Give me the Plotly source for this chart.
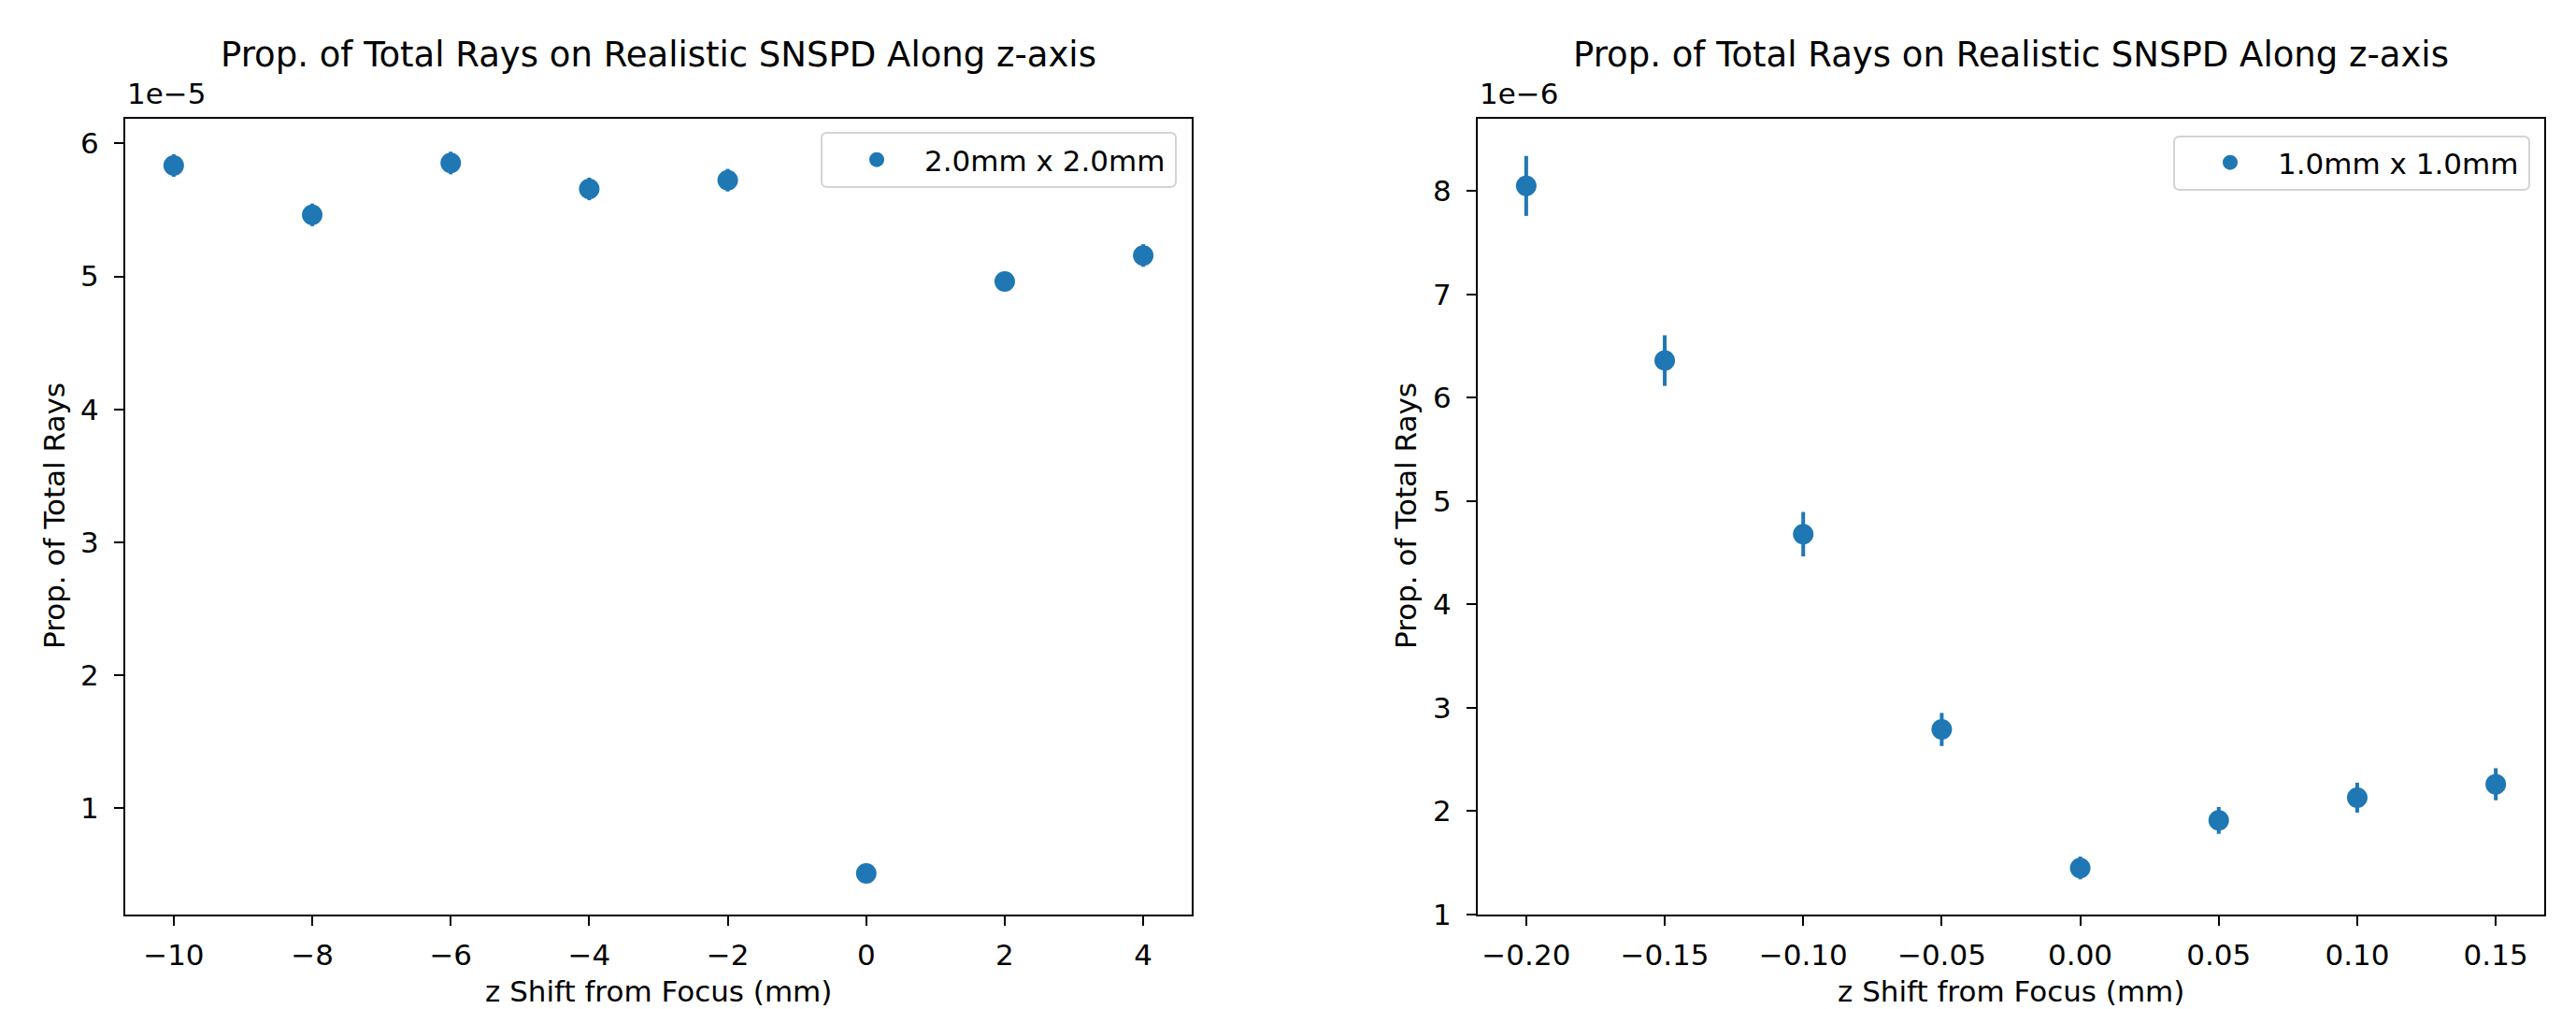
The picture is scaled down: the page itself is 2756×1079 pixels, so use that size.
import plotly.graph_objects as go

W, H = 2756, 1079

# ---- data ----
z_left = [-10, -8, -6, -4, -2, 0, 2, 4]
prop_left = [5.834e-5, 5.463e-5, 5.853e-5, 5.658e-5, 5.724e-5, 0.507e-5, 4.961e-5, 5.157e-5]
err_left = [0.085e-5, 0.085e-5, 0.085e-5, 0.085e-5, 0.085e-5, 0.03e-5, 0.07e-5, 0.085e-5]
label_left = "2.0mm x 2.0mm"

z_right = [-0.20, -0.15, -0.10, -0.05, 0.00, 0.05, 0.10, 0.15]
prop_right = [8.05e-6, 6.36e-6, 4.68e-6, 2.79e-6, 1.45e-6, 1.91e-6, 2.13e-6, 2.26e-6]
err_right = [0.29e-6, 0.245e-6, 0.215e-6, 0.16e-6, 0.11e-6, 0.13e-6, 0.145e-6, 0.155e-6]
label_right = "1.0mm x 1.0mm"

xt_left = [-10, -8, -6, -4, -2, 0, 2, 4]
xt_left_text = ["−10", "−8", "−6", "−4", "−2", "0", "2", "4"]
yt_left = [1e-5, 2e-5, 3e-5, 4e-5, 5e-5, 6e-5]
yt_left_text = ["1", "2", "3", "4", "5", "6"]
xt_right = [-0.20, -0.15, -0.10, -0.05, 0.00, 0.05, 0.10, 0.15]
xt_right_text = ["−0.20", "−0.15", "−0.10", "−0.05", "0.00", "0.05", "0.10", "0.15"]
yt_right = [1e-6, 2e-6, 3e-6, 4e-6, 5e-6, 6e-6, 7e-6, 8e-6]
yt_right_text = ["1", "2", "3", "4", "5", "6", "7", "8"]

title_text = "Prop. of Total Rays on Realistic SNSPD Along z-axis"
xlabel = "z Shift from Focus (mm)"
ylabel = "Prop. of Total Rays"

BLUE = "#1f77b4"
FONT = "DejaVu Sans"

def px(x):
    return x / W

def py(y):
    return (H - y) / H

L_dom = [px(134), px(1275)]
R_dom = [px(1581), px(2722)]
Y_dom = [py(978), py(127)]

fig = go.Figure()
fig.add_trace(go.Scatter(
    x=z_left, y=prop_left, mode="markers", name=label_left,
    marker=dict(color=BLUE, size=22),
    error_y=dict(type="data", array=err_left, visible=True, color=BLUE, thickness=4, width=0),
    xaxis="x", yaxis="y", legend="legend"))
fig.add_trace(go.Scatter(
    x=z_right, y=prop_right, mode="markers", name=label_right,
    marker=dict(color=BLUE, size=22),
    error_y=dict(type="data", array=err_right, visible=True, color=BLUE, thickness=4, width=0),
    xaxis="x2", yaxis="y2", legend="legend2"))

axis_common = dict(showline=True, linecolor="black", linewidth=2, mirror=True,
                   ticks="outside", ticklen=10, tickwidth=2, tickcolor="black",
                   showgrid=False, zeroline=False, automargin=False,
                   tickfont=dict(family=FONT, size=31, color="black"))

def legend_box(x0, y0, x1, y1, r=6):
    return dict(type="path", xref="paper", yref="paper", layer="above",
                path=(f"M {px(x0 + r)} {py(y0)} L {px(x1 - r)} {py(y0)} "
                      f"Q {px(x1)} {py(y0)} {px(x1)} {py(y0 + r)} "
                      f"L {px(x1)} {py(y1 - r)} Q {px(x1)} {py(y1)} {px(x1 - r)} {py(y1)} "
                      f"L {px(x0 + r)} {py(y1)} Q {px(x0)} {py(y1)} {px(x0)} {py(y1 - r)} "
                      f"L {px(x0)} {py(y0 + r)} Q {px(x0)} {py(y0)} {px(x0 + r)} {py(y0)} Z"),
                fillcolor="rgba(255,255,255,0.8)", line=dict(color="#d4d4d4", width=2))

fig.update_layout(
    template="none",
    width=W, height=H, autosize=False,
    margin=dict(l=0, r=0, t=0, b=0, pad=0),
    paper_bgcolor="white", plot_bgcolor="white",
    font=dict(family=FONT, size=31, color="black"),
    showlegend=True,
    xaxis=dict(domain=L_dom, anchor="y", range=[-10.7, 4.7],
               tickmode="array", tickvals=xt_left, ticktext=xt_left_text,
               ticklabelstandoff=5, **axis_common),
    yaxis=dict(domain=Y_dom, anchor="x", range=[0.198e-5, 6.186e-5],
               tickmode="array", tickvals=yt_left, ticktext=yt_left_text,
               ticklabelstandoff=10, **axis_common),
    xaxis2=dict(domain=R_dom, anchor="y2", range=[-0.2175, 0.1675],
                tickmode="array", tickvals=xt_right, ticktext=xt_right_text,
                ticklabelstandoff=5, **axis_common),
    yaxis2=dict(domain=Y_dom, anchor="x2", range=[0.999e-6, 8.70e-6],
                tickmode="array", tickvals=yt_right, ticktext=yt_right_text,
                ticklabelstandoff=10, **axis_common),
    legend=dict(x=px(1252), y=py(171), xanchor="right", yanchor="middle",
                bgcolor="rgba(0,0,0,0)", borderwidth=0,
                font=dict(family=FONT, size=31, color="black"), itemwidth=92),
    legend2=dict(x=px(2700), y=py(174), xanchor="right", yanchor="middle",
                 bgcolor="rgba(0,0,0,0)", borderwidth=0,
                 font=dict(family=FONT, size=31, color="black"), itemwidth=92),
    shapes=[legend_box(879, 142, 1258, 200), legend_box(2326, 146, 2706, 203)],
)

ann = []
for cx, exp_txt, lx, ylx in [((134 + 1275) / 2, "1e−5", 134, 58), ((1581 + 2722) / 2, "1e−6", 1581, 1504)]:
    ann.append(dict(x=px(cx), y=py(58), xref="paper", yref="paper", text=title_text,
                    showarrow=False, xanchor="center", yanchor="middle",
                    font=dict(family=FONT, size=37, color="black")))
    ann.append(dict(x=px(lx), y=py(120), xref="paper", yref="paper", text=exp_txt,
                    showarrow=False, xanchor="left", yanchor="bottom",
                    font=dict(family=FONT, size=31, color="black")))
    ann.append(dict(x=px(cx), y=py(1060), xref="paper", yref="paper", text=xlabel,
                    showarrow=False, xanchor="center", yanchor="middle",
                    font=dict(family=FONT, size=31, color="black")))
    ann.append(dict(x=px(ylx), y=py(552), xref="paper", yref="paper", text=ylabel,
                    showarrow=False, xanchor="center", yanchor="middle", textangle=-90,
                    font=dict(family=FONT, size=31, color="black")))
fig.update_layout(annotations=ann)

fig.write_html("out.html",
               post_script="document.body.style.margin='0';document.body.style.overflow='hidden';",
               config={"displayModeBar": False})
